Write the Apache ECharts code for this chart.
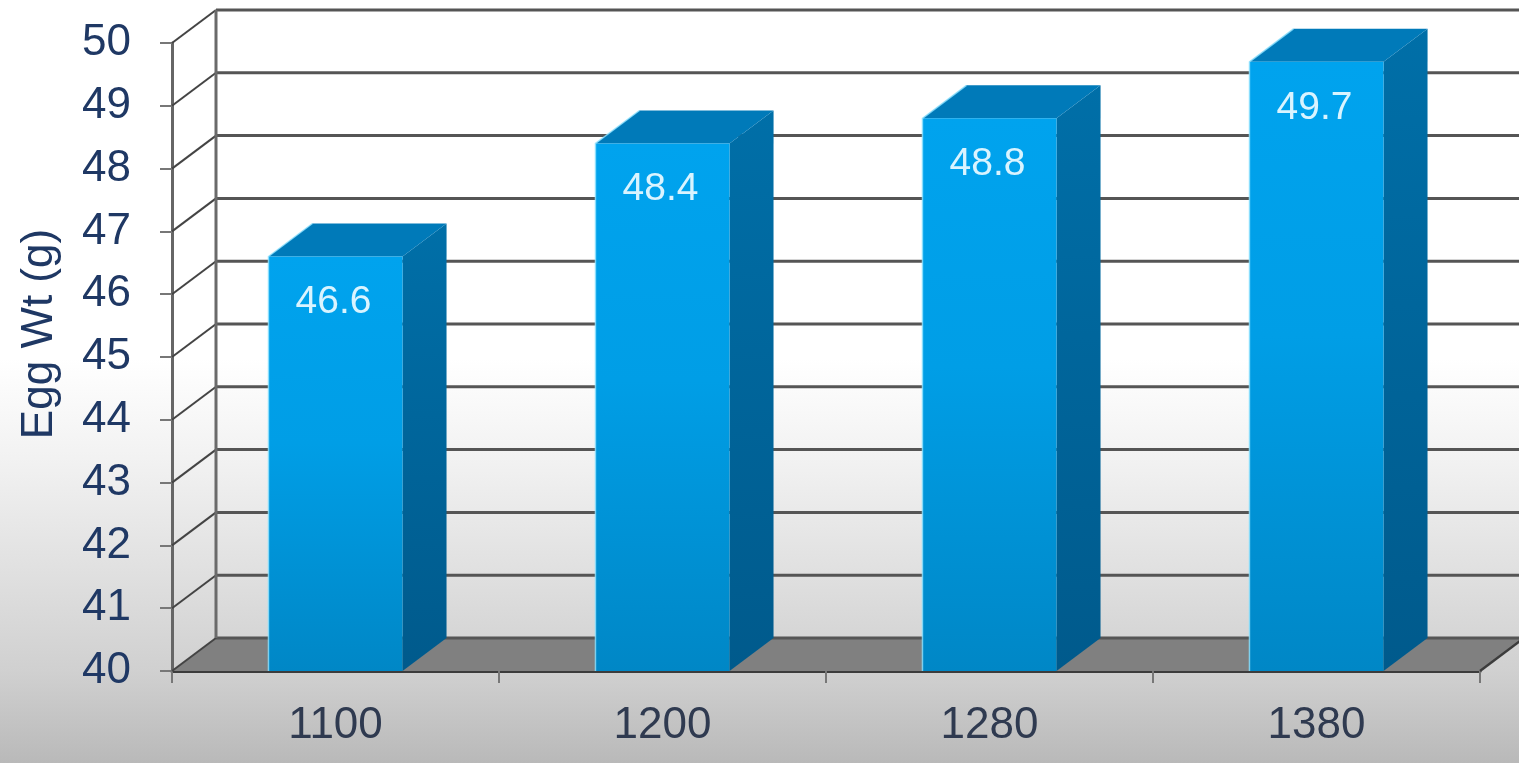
<!DOCTYPE html>
<html>
<head>
<meta charset="utf-8">
<style>
  html, body { margin: 0; padding: 0; background: #fff; }
  #chart { width: 1519px; height: 763px; }
</style>
<script src="https://cdn.jsdelivr.net/npm/echarts@6/dist/echarts.min.js"></script>
</head>
<body>
<div id="chart"></div>
<script>
// Egg weight by energy level
const categories = ['1100', '1200', '1280', '1380'];
const eggWeights = [46.6, 48.4, 48.8, 49.7];
const yTicks = [40, 41, 42, 43, 44, 45, 46, 47, 48, 49, 50];
const axisTitle = 'Egg Wt (g)';

// Oblique projection used for the pseudo-3D frame and the bar bodies
const DEPTH_X = 44;
const DEPTH_Y = -33;
const BAR_RATIO = 0.41;
const FONT = '"Liberation Sans", Arial, sans-serif';

const chart = echarts.init(document.getElementById('chart'), null, { renderer: 'canvas' });

const back = (p) => [p[0] + DEPTH_X, p[1] + DEPTH_Y];

// Floor parallelogram at the axis minimum
function renderFloor(params, api) {
  const cs = params.coordSys;
  const yBase = api.coord([0, api.value(1)])[1];
  const a = [cs.x, yBase];
  const b = [cs.x + cs.width, yBase];
  return {
    type: 'group',
    children: [
      { type: 'polygon', shape: { points: [a, b, back(b), back(a)] },
        style: { fill: '#808080' } },
      { type: 'line', shape: { x1: back(a)[0], y1: back(a)[1], x2: back(b)[0], y2: back(b)[1] },
        style: { stroke: '#555555', lineWidth: 3 } },
      { type: 'line', shape: { x1: b[0], y1: b[1], x2: back(b)[0], y2: back(b)[1] },
        style: { stroke: '#3c3c3c', lineWidth: 2.5 } }
    ]
  };
}

// One back-wall gridline plus its diagonal on the left wall, per tick
function renderGrid(params, api) {
  const cs = params.coordSys;
  const y = api.coord([0, api.value(1)])[1];
  const a = [cs.x, y];
  const b = [cs.x + cs.width, y];
  const children = [
    { type: 'line', shape: { x1: a[0], y1: a[1], x2: back(a)[0], y2: back(a)[1] },
      style: { stroke: '#444444', lineWidth: 2 } }
  ];
  if (api.value(1) !== yTicks[0]) {
    children.push({ type: 'line',
      shape: { x1: back(a)[0], y1: back(a)[1], x2: back(b)[0], y2: back(b)[1] },
      style: { stroke: '#555555', lineWidth: 3 } });
  }
  return { type: 'group', children };
}

// Vertical edge of the back wall
function renderBackEdge(params, api) {
  const cs = params.coordSys;
  const top = back([cs.x, api.coord([0, yTicks[yTicks.length - 1]])[1]]);
  const bottom = back([cs.x, api.coord([0, yTicks[0]])[1]]);
  return { type: 'line', shape: { x1: top[0], y1: top[1], x2: bottom[0], y2: bottom[1] },
    style: { stroke: '#6a6a6a', lineWidth: 3 } };
}

// Box-shaped bar with its value printed on the front face
function renderBar(params, api) {
  const centre = api.coord([api.value(0), api.value(1)]);
  const base = api.coord([api.value(0), yTicks[0]]);
  const half = api.size([1, 0])[0] * BAR_RATIO / 2;
  const tl = [centre[0] - half, centre[1]];
  const tr = [centre[0] + half, centre[1]];
  const br = [centre[0] + half, base[1]];
  const bl = [centre[0] - half, base[1]];
  return {
    type: 'group',
    children: [
      { type: 'polygon', shape: { points: [tr, back(tr), back(br), br] },
        style: { fill: { type: 'linear', x: 0, y: 0, x2: 0, y2: 1,
          colorStops: [{ offset: 0, color: '#006fa8' }, { offset: 1, color: '#005a8c' }] } } },
      { type: 'polygon', shape: { points: [tl, back(tl), back(tr), tr] },
        style: { fill: '#007ab9' } },
      { type: 'polygon', shape: { points: [tl, tr, br, bl] },
        style: { fill: { type: 'linear', x: 0, y: 0, x2: 0, y2: 1,
          colorStops: [
            { offset: 0, color: '#00a3ee' },
            { offset: 0.45, color: '#009ee6' },
            { offset: 1, color: '#0087c6' }
          ] } } },
      // Pale highlight along the left and upper-left edges of the box
      { type: 'polyline', shape: { points: [bl, tl, back(tl)] },
        style: { fill: 'none', stroke: '#8fe2ff', lineWidth: 1.5, opacity: 0.8 } },
      { type: 'text',
        style: { text: api.value(1).toFixed(1), x: centre[0] - 2, y: centre[1] + 46,
          fill: '#d9f4ff', font: '39px ' + FONT, align: 'center', verticalAlign: 'middle' } }
    ]
  };
}

chart.setOption({
  animation: false,
  backgroundColor: {
    type: 'linear', x: 0, y: 0, x2: 0, y2: 1,
    colorStops: [
      { offset: 0, color: '#ffffff' },
      { offset: 0.47, color: '#ffffff' },
      { offset: 0.6, color: '#f2f2f2' },
      { offset: 0.75, color: '#e0e0e0' },
      { offset: 0.88, color: '#d0d0d0' },
      { offset: 1, color: '#b9b9b9' }
    ]
  },
  grid: { left: 172, top: 43, width: 1308, height: 628, containLabel: false, outerBoundsMode: 'none' },
  xAxis: {
    type: 'category',
    data: categories,
    boundaryGap: true,
    axisLine: { show: true, onZero: false, lineStyle: { color: '#3c3c3c', width: 3 } },
    axisTick: { show: true, alignWithLabel: false, length: 12, lineStyle: { color: '#777777', width: 2 } },
    axisLabel: { margin: 33, color: '#2f3a50', fontSize: 44, fontFamily: FONT }
  },
  yAxis: {
    type: 'value',
    min: yTicks[0],
    max: yTicks[yTicks.length - 1],
    interval: 1,
    name: axisTitle,
    nameLocation: 'middle',
    nameRotate: 90,
    nameGap: 110,
    nameTextStyle: { color: '#1f3864', fontSize: 44, fontFamily: FONT, padding: [0, 0, 0, 46] },
    splitLine: { show: false },
    axisLine: { show: true, lineStyle: { color: '#666666', width: 3 } },
    axisTick: { show: true, length: 12, lineStyle: { color: '#777777', width: 2 } },
    axisLabel: { margin: 41, color: '#1f3864', fontSize: 44, fontFamily: FONT, padding: [5, 0, 0, 0] }
  },
  series: [
    { type: 'custom', name: 'floor', coordinateSystem: 'cartesian2d', clip: false, silent: true, z: 1,
      data: [[0, yTicks[0]]], renderItem: renderFloor },
    { type: 'custom', name: 'gridlines', coordinateSystem: 'cartesian2d', clip: false, silent: true, z: 2,
      data: yTicks.map((t) => [0, t]), renderItem: renderGrid },
    { type: 'custom', name: 'back edge', coordinateSystem: 'cartesian2d', clip: false, silent: true, z: 2,
      data: [[0, yTicks[0]]], renderItem: renderBackEdge },
    { type: 'custom', name: 'Egg Wt', coordinateSystem: 'cartesian2d', clip: false, z: 5,
      data: eggWeights.map((v, i) => [i, v]), renderItem: renderBar }
  ]
});
</script>
</body>
</html>
